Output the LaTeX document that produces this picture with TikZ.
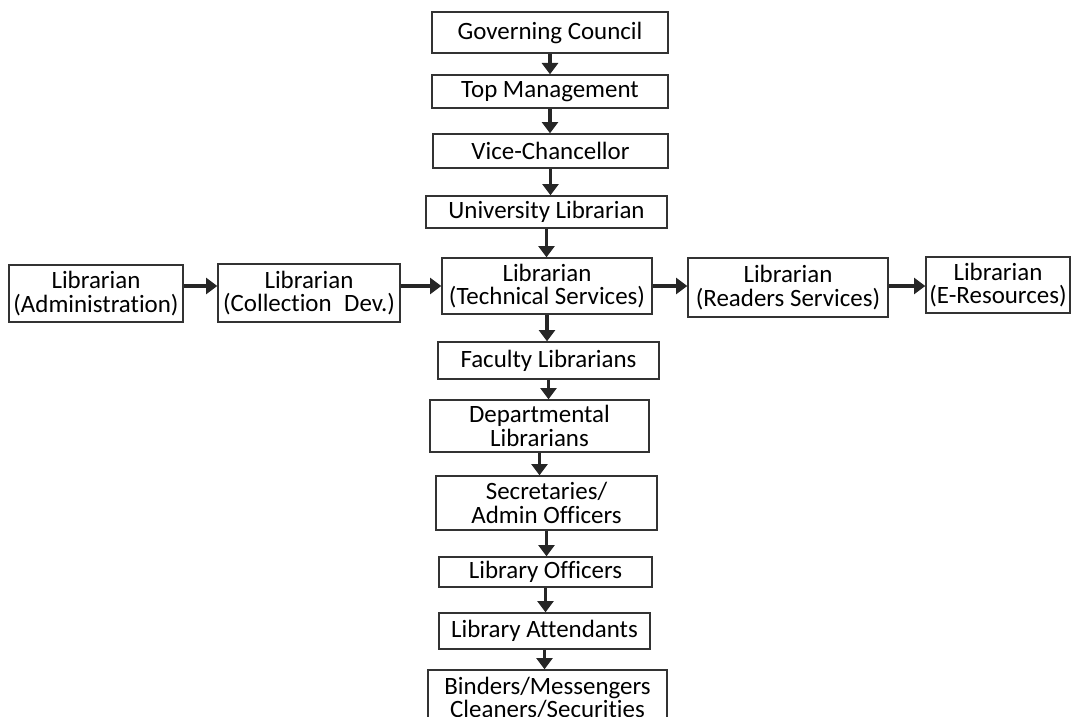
\documentclass[tikz,border=0pt]{standalone}
\usepackage{fontspec}
\setmainfont{Carlito}[RawFeature=-liga]
\usetikzlibrary{arrows.meta}

\tikzset{
  post/.style={draw=black!80, line width=1pt, inner sep=0pt, align=center,
               font=\fontsize{18.7}{17.5}\selectfont},
  link/.style={line width=2.5pt, black!85, -{Triangle[length=8.5pt, width=12pt]}}
}

\begin{document}
\begin{tikzpicture}[x=0.75pt, y=-0.75pt]

\useasboundingbox (0,0) rectangle (1071,717);

% Main column
\node[post, minimum width=177pt,    minimum height=30.75pt] (gc)   at (550,32.5)  {Governing Council};
\node[post, minimum width=177pt,    minimum height=24.75pt] (tm)   at (550,91.5)  {Top Management};
\node[post, minimum width=176.25pt, minimum height=25.5pt]  (vc)   at (550.5,151) {Vice-Chancellor};
\node[post, minimum width=180.75pt, minimum height=24pt]    (ul)   at (546.5,212) {University Librarian};
\node[post, minimum width=157.5pt,  minimum height=42pt]    (tech) at (547,286)   {Librarian\\(Technical Services)};
\node[post, minimum width=165.75pt, minimum height=27.75pt] (fac)  at (548.5,360.5) {Faculty Librarians};
\node[post, minimum width=164.25pt, minimum height=39pt]    (dep)  at (539.5,426) {Departmental\\Librarians};
\node[post, minimum width=165.75pt, minimum height=40.5pt]  (sec)  at (546.5,503) {Secretaries/\\Admin Officers};
\node[post, minimum width=159.75pt, minimum height=22.5pt]  (lo)   at (545.5,572) {Library Officers};
\node[post, minimum width=158.25pt, minimum height=27pt]    (la)   at (544.5,631) {Library Attendants};
\node[post, minimum width=179.25pt, minimum height=42pt]    (bind) at (547.5,698) {Binders/Messengers\\Cleaners/Securities};

% Side row
\node[post, minimum width=130.5pt, minimum height=42.75pt] (adm)  at (96,293.5)  {Librarian\\(Administration)};
\node[post, minimum width=136.5pt, minimum height=43.5pt]  (col)  at (309,293)   {Librarian\\(Collection\enspace Dev.)};
\node[post, minimum width=150pt,   minimum height=44.25pt] (rdr)  at (788,287.5) {Librarian\\(Readers Services)};
\node[post, minimum width=108pt,   minimum height=42pt]    (eres) at (998,285)   {Librarian\\(E-Resources)};

% Down arrows
\foreach \a/\b in {gc/tm, tm/vc, vc/ul, ul/tech, tech/fac, fac/dep, dep/sec, sec/lo, lo/la, la/bind}
  \draw[link] (\a.south) -- (\a.south |- \b.north);

% Across arrows
\foreach \a/\b in {adm/col, col/tech, tech/rdr, rdr/eres}
  \draw[link] (\a.east |- tech.center) -- (\b.west |- tech.center);

\end{tikzpicture}
\end{document}
